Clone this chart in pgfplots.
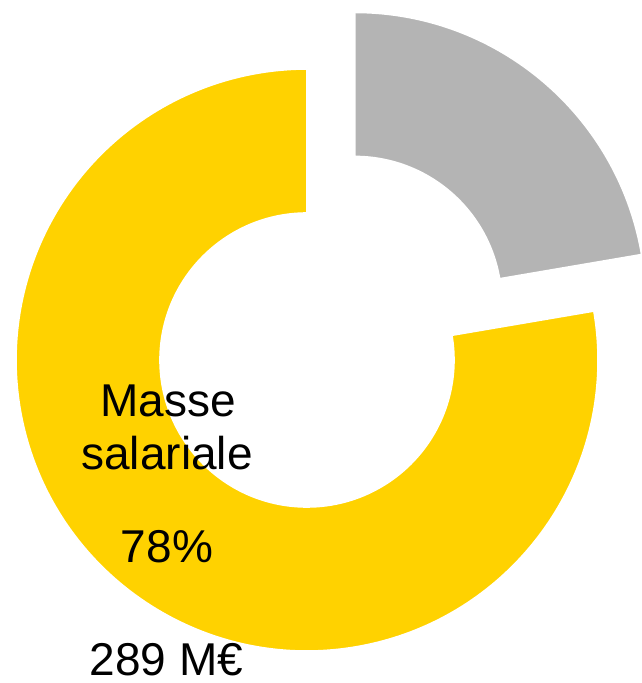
\documentclass[border=0pt]{standalone}
\usepackage{pgfplots}
\pgfplotsset{compat=1.18}
\usepackage{fontspec}
\setmainfont{Liberation Sans}
\definecolor{donutyellow}{RGB}{255,210,0}
\definecolor{donutgray}{RGB}{180,180,180}
\begin{document}
\begin{tikzpicture}
% data: Masse salariale 289 M EUR, other 83 M EUR
\def\valA{289}
\def\valB{83}
\pgfmathsetmacro{\fracB}{\valB/(\valA+\valB)}
\pgfmathsetmacro{\angB}{360*\fracB}
\pgfmathsetmacro{\splitang}{90-\angB}
\pgfmathsetmacro{\midang}{90-\angB/2}
\def\Ro{291}
\def\Ri{147}
\def\cx{307}
\def\cy{323}
\pgfmathsetmacro{\gx}{\cx+74*cos(\midang)}
\pgfmathsetmacro{\gy}{\cy+74*sin(\midang)}
\begin{axis}[x=1pt,y=1pt,xmin=0,xmax=642,ymin=0,ymax=683,hide axis,clip=false,scale only axis]
% yellow slice
\fill[donutyellow, draw=white, line width=1.6pt, line join=round]
  (axis cs:{\cx+\Ro*cos(\splitang)},{\cy+\Ro*sin(\splitang)})
  arc[start angle=\splitang, end angle=-270, radius=\Ro pt]
  -- (axis cs:{\cx},{\cy+\Ri})
  arc[start angle=-270, end angle=\splitang, radius=\Ri pt] -- cycle;
% gray slice (exploded)
\fill[donutgray, draw=white, line width=1.6pt, line join=round]
  (axis cs:{\gx},{\gy+\Ro})
  arc[start angle=90, end angle=\splitang, radius=\Ro pt]
  -- (axis cs:{\gx+\Ri*cos(\splitang)},{\gy+\Ri*sin(\splitang)})
  arc[start angle=\splitang, end angle=90, radius=\Ri pt] -- cycle;
% labels
\node[anchor=base, font=\fontsize{46}{53}\selectfont, inner sep=0pt] at (axis cs:168,266) {Masse};
\node[anchor=base, font=\fontsize{46}{53}\selectfont, inner sep=0pt] at (axis cs:167,213) {salariale};
\node[anchor=base, font=\fontsize{46}{53}\selectfont, inner sep=0pt] at (axis cs:167,120) {78\%};
\node[anchor=base, font=\fontsize{46}{53}\selectfont, inner sep=0pt, text depth=0pt] at (axis cs:166.5,7) {289 M€};
\end{axis}
\pgfresetboundingbox
\path[use as bounding box] (current axis.south west) rectangle (current axis.north east);
\end{tikzpicture}
\end{document}
